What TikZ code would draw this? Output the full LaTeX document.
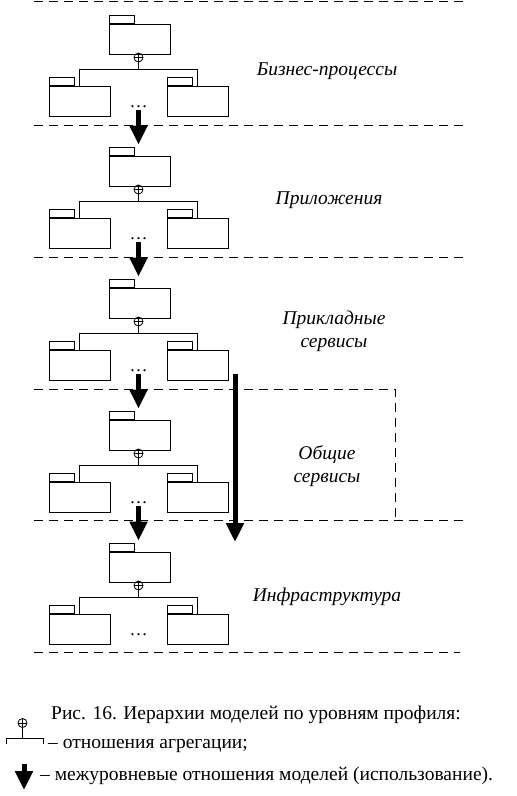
\documentclass[tikz,border=0pt]{standalone}
\usepackage{fontspec}
\setmainfont{Liberation Serif}
\usetikzlibrary{arrows.meta}
\tikzset{
  pkgbody/.style={draw, line width=0.9pt, minimum width=61pt, minimum height=30pt, inner sep=0pt, anchor=north west},
  pkgtab/.style={draw, line width=0.9pt, minimum width=25pt, minimum height=8pt, inner sep=0pt, anchor=south west},
  aggc/.style={draw, circle, minimum size=9pt, inner sep=0pt, line width=0.8pt},
  treeline/.style={line width=0.9pt},
  levelline/.style={line width=1pt, dash pattern=on 9pt off 6pt},
  usearrow/.style={line width=5pt, -{Triangle[width=17pt,length=19pt]}},
  lvllabel/.style={font=\fontsize{19.5}{23}\selectfont\itshape, align=center, inner sep=0pt},
  captext/.style={font=\fontsize{19.5}{23}\selectfont, inner sep=0pt, anchor=base west},
  dotsnode/.style={font=\fontsize{18}{23}\selectfont, inner sep=0pt, anchor=base}
}
\begin{document}
\begin{tikzpicture}[x=1pt, y=-1pt]
\useasboundingbox (0,0) rectangle (517,796);
% level separators
\draw[levelline] (34,1.5) coordinate (d0a) -- (465,1.5) coordinate (d0b);
\draw[levelline] (34,125.5) coordinate (d1a) -- (465,125.5) coordinate (d1b);
\draw[levelline] (34,257.5) coordinate (d2a) -- (465,257.5) coordinate (d2b);
\draw[levelline] (34,389.5) coordinate (d3a) -- (395.5,389.5) coordinate (d3b) -- (395.5,520.5) coordinate (d3c);
\draw[levelline] (34,520.5) coordinate (d4a) -- (465,520.5) coordinate (d4b);
\draw[levelline] (34,652.5) coordinate (d5a) -- (460,652.5) coordinate (d5b);
% package hierarchies
\foreach \i/\T in {1/15,2/147,3/279,4/411,5/543}{
  \node[pkgbody] (tb\i) at (108.5,\T+8.5) {};
  \node[pkgtab] (tt\i) at (tb\i.north west) {};
  \node[aggc] (c\i) at (138.5,\T+42.5) {};
  \draw[line width=0.8pt] (c\i.north) -- (c\i.south) (c\i.west) -- (c\i.east);
  \node[pkgbody] (lb\i) at (48.5,\T+70.5) {};
  \node[pkgtab] (lt\i) at (lb\i.north west) {};
  \node[pkgbody] (rb\i) at (166.5,\T+70.5) {};
  \node[pkgtab] (rt\i) at (rb\i.north west) {};
  \coordinate (bar\i) at (138.5,\T+54.5);
  \draw[treeline] (c\i.south) -- (bar\i);
  \draw[treeline] (lb\i.north) |- (bar\i) -| (rb\i.north);
  \node[dotsnode] (dots\i) at (138.5,\T+92) {\dots};
  \coordinate (as\i) at (138.5,\T+95);
}
\foreach \i/\j in {1/2,2/3,3/4,4/5}{
  \draw[usearrow] (as\i) -- ([yshift=2pt]as\i |- tt\j.north);
}
% labels
\node[lvllabel] (n1) at (327,71) {Бизнес-процессы};
\node[lvllabel] (n2) at (329,200) {Приложения};
\node[lvllabel] (n3) at (334,331) {Прикладные\\сервисы};
\node[lvllabel] (n4) at (327,466) {Общие\\сервисы};
\node[lvllabel] (n5) at (327,597) {Инфраструктура};
% long arrow
\coordinate (la1) at (235,374);
\coordinate (la2) at (235,542);
\draw[usearrow] (la1) -- (la2);
% caption
\node[captext] (cap1) at (51,719) {Рис. 16. Иерархии моделей по уровням профиля:};
\node[aggc] (legc) at (22.5,723) {};
\draw[line width=0.8pt] (legc.north) -- (legc.south) (legc.west) -- (legc.east);
\coordinate (legbar) at (22.5,738.5);
\coordinate (legl) at (6.5,744);
\coordinate (legr) at (43.5,744);
\draw[treeline] (legc.south) -- (legbar);
\draw[treeline] (legl) |- (legbar) -| (legr);
\node[captext] (cap2) at (48,748) {– отношения агрегации;};
\coordinate (lega1) at (24,764);
\coordinate (lega2) at (24,790);
\draw[usearrow] (lega1) -- (lega2);
\node[captext] (cap3) at (40,780) {– межуровневые отношения моделей (использование).};
\end{tikzpicture}
\end{document}
